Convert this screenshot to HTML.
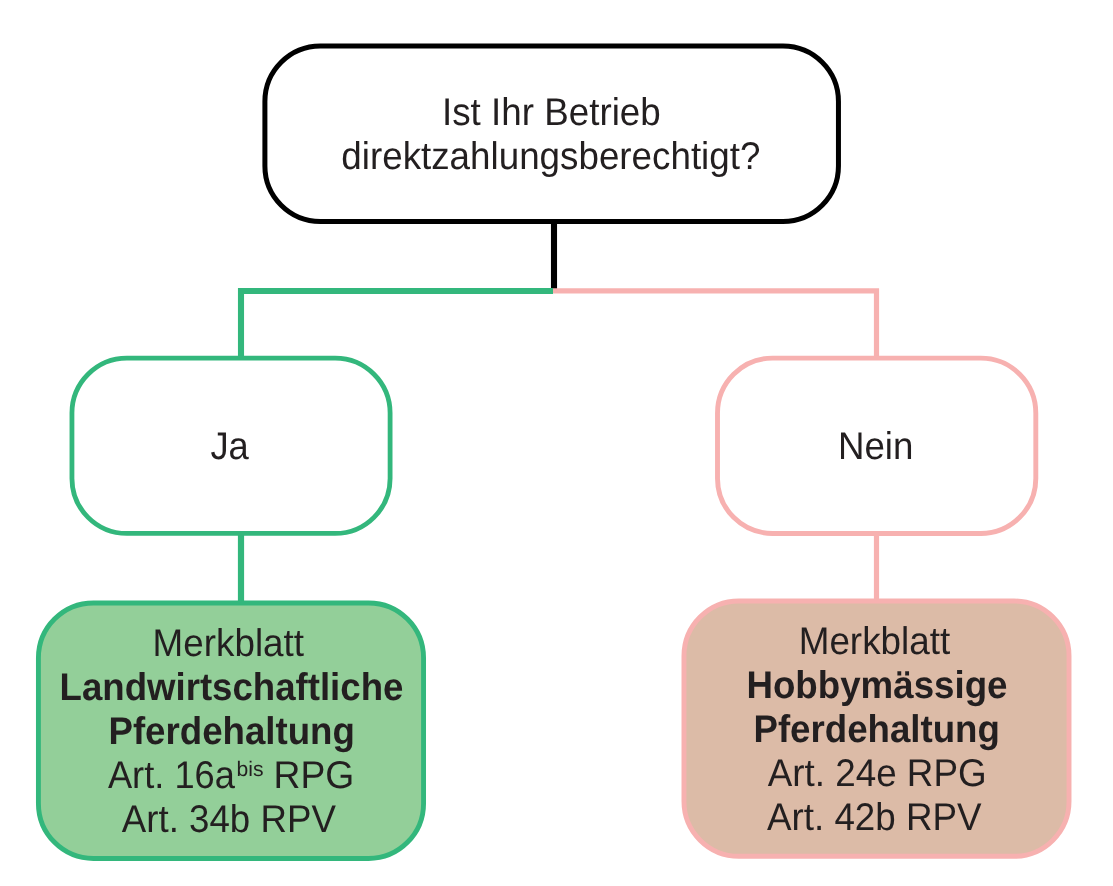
<!DOCTYPE html>
<html><head><meta charset="utf-8">
<style>
html,body{margin:0;padding:0;background:#fff;width:1113px;height:886px;overflow:hidden}
svg{display:block;will-change:transform}
text{font-family:"Liberation Sans",sans-serif;fill:#231f20;font-size:38.55px;text-rendering:geometricPrecision}
.b{font-weight:bold}
</style></head><body>
<svg width="1113" height="886" viewBox="0 0 1113 886" xmlns="http://www.w3.org/2000/svg">
<!-- connectors -->
<line x1="554" y1="221" x2="554" y2="289" stroke="#000" stroke-width="6.1"/>
<polyline points="553,290.95 241,290.95 241,358" fill="none" stroke="#33b77c" stroke-width="6.1"/>
<polyline points="553,290.95 876.5,290.95 876.5,358" fill="none" stroke="#f7b1b0" stroke-width="5.2"/>
<rect x="237.9" y="533" width="6.2" height="70" fill="#33b77c"/>
<rect x="873.9" y="533" width="5.2" height="68" fill="#f7b1b0"/>
<!-- boxes -->
<rect x="264.9" y="46.1" width="573.55" height="175.4" rx="55.5" ry="55.5" fill="#fff" stroke="#000" stroke-width="5"/>
<rect x="71.95" y="358.1" width="318.15" height="175.35" rx="55" ry="55" fill="#fff" stroke="#33b77c" stroke-width="4.8"/>
<rect x="717.5" y="358.17" width="318.3" height="175.28" rx="55" ry="55" fill="#fff" stroke="#f7b1b0" stroke-width="4.9"/>
<rect x="38.42" y="602.96" width="385.14" height="255.47" rx="55" ry="55" fill="#93cf99" stroke="#33b77c" stroke-width="4.9"/>
<rect x="683.96" y="600.96" width="385.07" height="255.34" rx="55" ry="55" fill="#dcbba7" stroke="#f7b1b0" stroke-width="4.9"/>
<!-- text -->
<text transform="matrix(0.9542 0 0 1 442.00 124.85)">Ist Ihr Betrieb</text>
<text transform="matrix(0.9541 0 0 1 341.30 169.0)">direktzahlungsberechtigt?</text>
<text transform="matrix(0.9430 0 0 1 210.43 458.75)">Ja</text>
<text transform="matrix(0.9521 0 0 1 837.89 458.8)">Nein</text>
<text transform="matrix(0.9554 0 0 1 152.58 655.8)">Merkblatt</text>
<text class="b" transform="matrix(0.9498 0 0 1 59.55 699.9)">Landwirtschaftliche</text>
<text class="b" transform="matrix(0.9509 0 0 1 108.45 743.9)">Pferdehaltung</text>
<text transform="matrix(0.9402 0 0 1 107.93 787.7)">Art. 16a</text>
<text style="font-size:21.0px" transform="matrix(1.0070 0 0 1 236.59 775.9)">bis</text>
<text transform="matrix(0.9672 0 0 1 273.54 787.7)">RPG</text>
<text transform="matrix(0.9514 0 0 1 121.82 831.9)">Art. 34b RPV</text>
<text transform="matrix(0.9560 0 0 1 798.68 653.8)">Merkblatt</text>
<text class="b" transform="matrix(0.9519 0 0 1 746.45 697.7)">Hobbymässige</text>
<text class="b" transform="matrix(0.9509 0 0 1 753.45 741.9)">Pferdehaltung</text>
<text transform="matrix(0.9550 0 0 1 767.72 785.7)">Art. 24e RPG</text>
<text transform="matrix(0.9545 0 0 1 766.92 829.7)">Art. 42b RPV</text>
</svg>
</body></html>
